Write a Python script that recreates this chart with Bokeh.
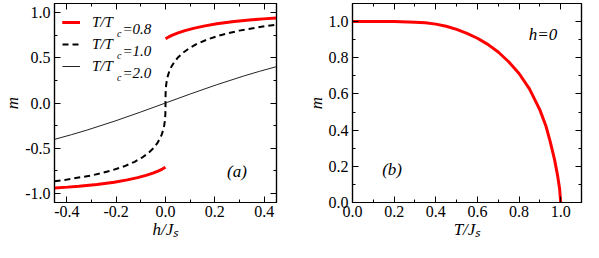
import math
from bokeh.plotting import figure
from bokeh.models import (Range1d, FixedTicker, LinearAxis, Label, Legend, LegendItem,
                          PrintfTickFormatter, CustomJSTickFormatter)
from bokeh.layouts import row
from bokeh.embed import file_html
from bokeh.resources import INLINE

# ---------------- data ----------------
# panel (a): m versus h/J_s
h_08_up = [0.0, 0.013, 0.028, 0.051, 0.079, 0.113, 0.155, 0.208, 0.278, 0.351, 0.397, 0.45]
m_08_up = [0.710, 0.730, 0.750, 0.775, 0.800, 0.825, 0.850, 0.875, 0.900, 0.920, 0.930, 0.940]
h_08_lo = [-0.45, -0.397, -0.351, -0.278, -0.208, -0.155, -0.113, -0.079, -0.051, -0.028, -0.013, 0.0]
m_08_lo = [-0.940, -0.930, -0.920, -0.900, -0.875, -0.850, -0.825, -0.800, -0.775, -0.750, -0.730, -0.710]

h_10 = [-0.45, -0.4062, -0.2986, -0.2230, -0.1673, -0.1253, -0.0932, -0.0684, -0.0493, -0.0347,
        -0.0237, -0.0154, -0.0095, -0.0054, -0.0027, -0.0011, -0.0003, 0.0, 0.0003, 0.0011,
        0.0027, 0.0054, 0.0095, 0.0154, 0.0237, 0.0347, 0.0493, 0.0684, 0.0932, 0.1253,
        0.1673, 0.2230, 0.2986, 0.4062, 0.45]
m_10 = [-0.866, -0.85, -0.80, -0.75, -0.70, -0.65, -0.60, -0.55, -0.50, -0.45,
        -0.40, -0.35, -0.30, -0.25, -0.20, -0.15, -0.10, 0.0, 0.10, 0.15,
        0.20, 0.25, 0.30, 0.35, 0.40, 0.45, 0.50, 0.55, 0.60, 0.65,
        0.70, 0.75, 0.80, 0.85, 0.866]

h_20 = [-0.45, -0.381, -0.319, -0.2055, -0.1007, 0.0, 0.1007, 0.2055, 0.319, 0.381, 0.45]
m_20 = [-0.402, -0.35, -0.30, -0.20, -0.10, 0.0, 0.10, 0.20, 0.30, 0.35, 0.402]

# panel (b): m versus T/J_s at h=0
T_b = [0.0, 0.1, 0.2, 0.3, 0.35, 0.4, 0.45, 0.5, 0.55, 0.6, 0.65, 0.7, 0.75, 0.8, 0.85,
       0.9, 0.93, 0.95, 0.97, 0.985, 0.995, 1.0]
m_b = [1.0, 1.0, 1.0, 0.997, 0.993, 0.986, 0.974, 0.957, 0.935, 0.908, 0.874, 0.832, 0.778,
       0.713, 0.628, 0.512, 0.42, 0.335, 0.24, 0.15, 0.075, 0.0]

# ticks
xa_major = [-0.4, -0.2, 0.0, 0.2, 0.4]
xa_minor = [-0.3, -0.1, 0.1, 0.3]
ya_major = [-1.0, -0.5, 0.0, 0.5, 1.0]
ya_minor = [-0.75, -0.25, 0.25, 0.75]
xb_major = [0.0, 0.2, 0.4, 0.6, 0.8, 1.0]
xb_minor = [0.1, 0.3, 0.5, 0.7, 0.9]
yb_major = [0.0, 0.2, 0.4, 0.6, 0.8, 1.0]
yb_minor = [0.1, 0.3, 0.5, 0.7, 0.9]

legend_values = ["=0.8", "=1.0", "=2.0"]
xlabel_a = "h/J\u209b"
xlabel_b = "T/J\u209b"
ylabel = "m"

FONT = "Liberation Serif"
H = 242
BT, BB = 3, 40


def make_fig(w, bl, br, xr, yr):
    p = figure(width=w, height=H, x_range=Range1d(*xr), y_range=Range1d(*yr),
               output_backend="svg", toolbar_location=None,
               min_border_left=bl, min_border_right=br, min_border_top=BT, min_border_bottom=BB)
    p.xgrid.visible = False
    p.ygrid.visible = False
    p.outline_line_color = "black"
    p.outline_line_width = 1.2
    p.background_fill_color = "white"
    p.border_fill_color = "white"
    return p


def style_axis(ax, major, minor, labels=True, standoff=4):
    ax.ticker = FixedTicker(ticks=major, minor_ticks=minor)
    ax.axis_line_color = "black"
    ax.axis_line_width = 1.2
    ax.major_tick_in = 6
    ax.major_tick_out = 0
    ax.minor_tick_in = 3
    ax.minor_tick_out = 0
    ax.major_tick_line_color = "black"
    ax.minor_tick_line_color = "black"
    if labels:
        ax.formatter = PrintfTickFormatter(format="%.1f")
        ax.major_label_text_font = FONT
        ax.major_label_text_font_size = "16px"
        ax.major_label_text_color = "black"
        ax.major_label_standoff = standoff
        ax.axis_label_text_font = FONT
        ax.axis_label_text_font_style = "italic"
        ax.axis_label_text_font_size = "17px"
        ax.axis_label_text_color = "black"
        ax.axis_label_standoff = 0
    else:
        ax.formatter = CustomJSTickFormatter(code="return ''")
        ax.major_label_standoff = 0


def decorate(p, xmaj, xmin, ymaj, ymin, xlabel):
    style_axis(p.xaxis[0], xmaj, xmin, standoff=3)
    style_axis(p.yaxis[0], ymaj, ymin, standoff=4)
    p.xaxis[0].axis_label = xlabel
    p.yaxis[0].axis_label = ylabel
    top = LinearAxis()
    style_axis(top, xmaj, xmin, labels=False)
    p.add_layout(top, "above")
    right = LinearAxis()
    style_axis(right, ymaj, ymin, labels=False)
    p.add_layout(right, "right")


def text(**kw):
    base = dict(text_font=FONT, text_font_style="italic", text_color="black",
                text_align="left", text_baseline="middle")
    base.update(kw)
    return Label(**base)


# ---------------- panel (a) ----------------
pa = make_fig(290, 30, 14, (-0.45, 0.45), (-1.1, 1.1))
decorate(pa, xa_major, xa_minor, ya_major, ya_minor, xlabel_a)

r08u = pa.line(h_08_up, m_08_up, line_color="#ff0000", line_width=3)
r08l = pa.line(h_08_lo, m_08_lo, line_color="#ff0000", line_width=3)
r10 = pa.line(h_10, m_10, line_color="black", line_width=2, line_dash="6 4")
r20 = pa.line(h_20, m_20, line_color="#222222", line_width=1)

leg = Legend(items=[LegendItem(label="T/T", renderers=[r08u, r08l]),
                    LegendItem(label="T/T", renderers=[r10]),
                    LegendItem(label="T/T", renderers=[r20])],
             location="top_left", margin=8, padding=6, spacing=0,
             glyph_width=18, glyph_height=22, label_height=22, label_standoff=12,
             border_line_color=None, background_fill_alpha=0,
             label_text_font=FONT, label_text_font_style="italic", label_text_font_size="15px",
             label_text_color="black")
pa.add_layout(leg)

# legend subscripts and values (screen units: from the frame's bottom-left corner)
FH = H - BT - BB
row_y = [FH - 25, FH - 47, FH - 69]
for yy, val in zip(row_y, legend_values):
    pa.add_layout(text(x=62.5, y=yy - 5, x_units="screen", y_units="screen", text="c",
                       text_font_size="10px"))
    pa.add_layout(text(x=68, y=yy, x_units="screen", y_units="screen", text=val,
                       text_font_size="15px"))

pa.add_layout(text(x=0.29, y=-0.76, text="(a)", text_font_size="17px", text_align="center"))

# ---------------- panel (b) ----------------
pb = make_fig(293, 62, 2, (0.0, 1.1), (0.0, 1.1))
decorate(pb, xb_major, xb_minor, yb_major, yb_minor, xlabel_b)
pb.line(T_b, m_b, line_color="#ff0000", line_width=3)

pb.add_layout(text(x=0.19, y=0.18, text="(b)", text_font_size="17px", text_align="center"))
pb.add_layout(text(x=0.915, y=0.93, text="h=0", text_font_size="17px", text_align="center"))

layout = row(pa, pb)
open("out.html", "w").write(file_html(layout, INLINE))
